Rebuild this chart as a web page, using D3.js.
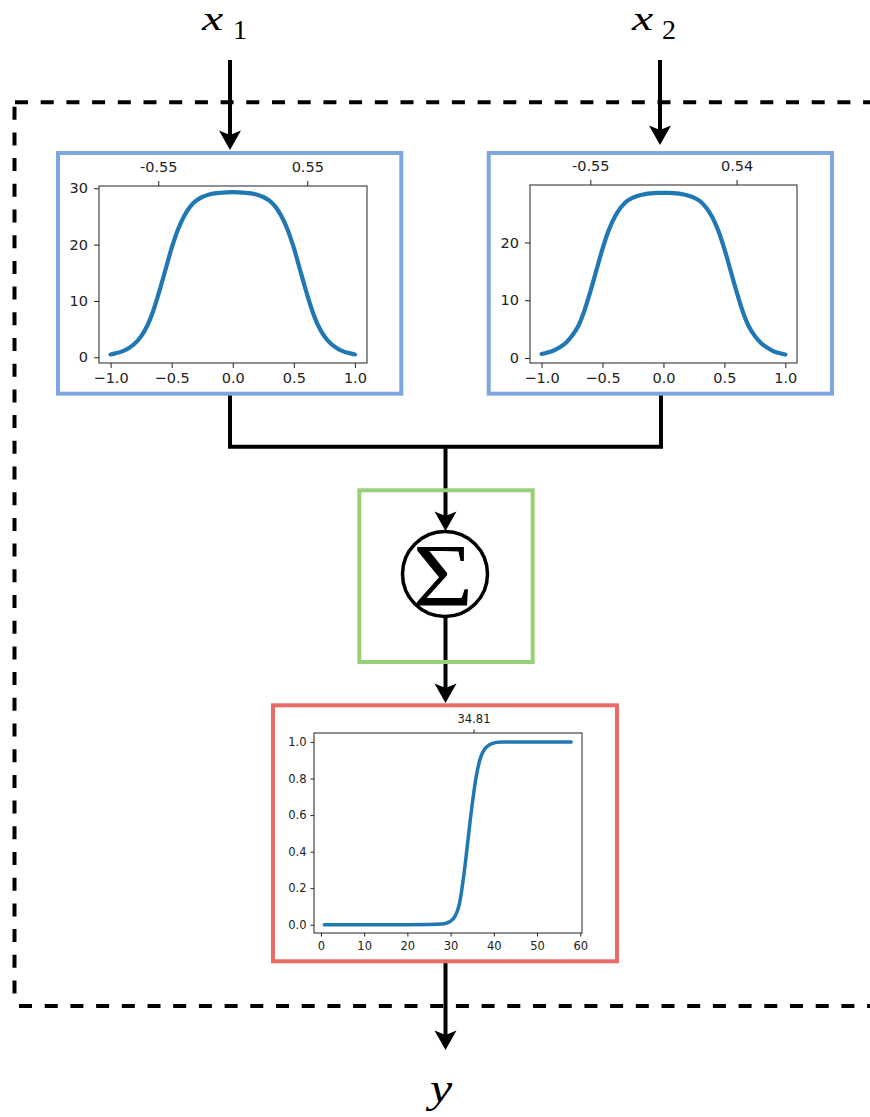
<!DOCTYPE html>
<html>
<head>
<meta charset="utf-8">
<script src="https://cdn.jsdelivr.net/npm/d3@7"></script>
<style>
  body { margin: 0; background: #fff; }
  .tick text { font-family: 'DejaVu Sans', sans-serif; fill: #222; }
</style>
</head>
<body>
<svg id="fig" width="870" height="1117"></svg>
<script>
// curve samples
var bumpX = [-1.0, -0.95, -0.9, -0.85, -0.8, -0.75, -0.7, -0.65, -0.6, -0.55, -0.5,
             -0.45, -0.4, -0.35, -0.3, -0.25, -0.2, -0.15, -0.1, -0.05, 0.0,
             0.05, 0.1, 0.15, 0.2, 0.25, 0.3, 0.35, 0.4, 0.45, 0.5,
             0.55, 0.6, 0.65, 0.7, 0.75, 0.8, 0.85, 0.9, 0.95, 1.0];
var bump1 = [0.5, 0.75, 1.1, 1.65, 2.5, 3.75, 5.6, 8.3, 11.8, 15.6, 19.4,
             22.6, 25.0, 26.7, 27.8, 28.45, 28.85, 29.08, 29.2, 29.27, 29.3,
             29.27, 29.2, 29.08, 28.85, 28.45, 27.8, 26.7, 25.0, 22.6, 19.4,
             15.6, 11.8, 8.3, 5.6, 3.75, 2.5, 1.65, 1.1, 0.75, 0.5];
var bump2 = [0.7, 0.95, 1.3, 1.85, 2.65, 3.85, 5.5, 8.1, 11.5, 15.2, 18.9,
             22.05, 24.4, 26.05, 27.15, 27.75, 28.15, 28.38, 28.5, 28.57, 28.6,
             28.57, 28.5, 28.38, 28.15, 27.75, 27.15, 26.05, 24.4, 22.05, 18.9,
             15.2, 11.5, 8.1, 5.5, 3.8, 2.6, 1.8, 1.2, 0.85, 0.6];

var sigX = [0.8, 5, 10, 15, 20, 25, 28, 29, 30, 31, 32, 33, 34, 35, 36, 37, 38,
            39, 40, 41, 42, 45, 50, 55, 57.9];
var sigY = [0, 0, 0, 0, 0, 0.001, 0.004, 0.009, 0.02, 0.045, 0.11, 0.26, 0.46,
            0.66, 0.82, 0.92, 0.965, 0.985, 0.994, 0.998, 1, 1, 1, 1, 1];

// ticks
var bumpXTicks = [-1.0, -0.5, 0.0, 0.5, 1.0];
var bump1YTicks = [0, 10, 20, 30];
var bump2YTicks = [0, 10, 20];
var top1Pos = [-0.61, 0.61], top1Lab = ['-0.55', '0.55'];
var top2Pos = [-0.60, 0.60], top2Lab = ['-0.55', '0.54'];
var sigXTicks = [0, 10, 20, 30, 40, 50, 60];
var sigYTicks = [0.0, 0.2, 0.4, 0.6, 0.8, 1.0];
var sigTopPos = [35.3], sigTopLab = ['34.81'];

var svg = d3.select('#fig');
svg.append('rect').attr('width', 870).attr('height', 1117).attr('fill', '#fff');

function plot(o) {
  var g = svg.append('g').attr('transform', `translate(${o.left}, ${o.top})`);
  var x = d3.scaleLinear().domain(o.xDomain).range([0, o.w]),
      y = d3.scaleLinear().domain(o.yDomain).range([o.h, 0]);

  var line = d3.line()
    .x(d => x(d[0]))
    .y(d => y(d[1]))
    .curve(o.curve);

  g.append('path')
    .datum(d3.zip(o.xs, o.ys))
    .attr('fill', 'none')
    .attr('stroke', '#1f77b4')
    .attr('stroke-width', o.lw)
    .attr('stroke-linejoin', 'round')
    .attr('stroke-linecap', 'round')
    .attr('d', line);

  var ax = [
    g.append('g').attr('transform', `translate(0, ${o.h})`)
      .call(d3.axisBottom(x).tickValues(o.xTicks).tickFormat(d3.format(o.xFmt))
        .tickSize(o.tick).tickPadding(o.padB)),
    g.append('g')
      .call(d3.axisLeft(y).tickValues(o.yTicks).tickFormat(d3.format(o.yFmt))
        .tickSize(o.tick).tickPadding(o.padL)),
    g.append('g')
      .call(d3.axisTop(x).tickValues(o.topPos).tickFormat((d, i) => o.topLab[i])
        .tickSize(o.tick).tickPadding(o.padT))
  ];
  ax.forEach(a => {
    a.select('.domain').remove();
    a.selectAll('.tick line').attr('stroke', '#222').attr('stroke-width', 1);
    a.selectAll('text').style('font-size', o.fs + 'px');
  });

  g.append('rect')
    .attr('width', o.w).attr('height', o.h)
    .attr('fill', 'none').attr('stroke', '#222').attr('stroke-width', 1);
}

function box(x, y, w, h, c) {
  svg.append('rect')
    .attr('x', x).attr('y', y).attr('width', w).attr('height', h)
    .attr('fill', 'none').attr('stroke', c).attr('stroke-width', 4);
}

function arrow(x, y1, y2) {
  var len = 19.5, hw = 11, notch = 4.5;
  svg.append('line')
    .attr('x1', x).attr('x2', x).attr('y1', y1).attr('y2', y2 - len + notch)
    .attr('stroke', '#000').attr('stroke-width', 4);
  svg.append('path')
    .attr('d', `M${x},${y2} L${x - hw},${y2 - len} L${x},${y2 - len + notch} L${x + hw},${y2 - len} Z`)
    .attr('fill', '#000');
}

// dashed outer frame
var dash = '13 12.7';
svg.append('line').attr('x1', 15).attr('x2', 880).attr('y1', 102.3).attr('y2', 102.3)
  .attr('stroke', '#000').attr('stroke-width', 4).attr('stroke-dasharray', dash);
svg.append('line').attr('x1', 14.5).attr('x2', 14.5).attr('y1', 102).attr('y2', 1006)
  .attr('stroke', '#000').attr('stroke-width', 4).attr('stroke-dasharray', dash)
  .attr('stroke-dashoffset', 21);
svg.append('line').attr('x1', 15).attr('x2', 880).attr('y1', 1006).attr('y2', 1006)
  .attr('stroke', '#000').attr('stroke-width', 4).attr('stroke-dasharray', dash)
  .attr('stroke-dashoffset', 21.7);

// connectors
svg.append('path')
  .attr('d', 'M230,395 V446.7 H661 V395')
  .attr('fill', 'none').attr('stroke', '#000').attr('stroke-width', 4)
  .attr('stroke-linejoin', 'miter');
arrow(230, 60, 150);
arrow(660, 60, 145);
arrow(445.5, 446.7, 531);
arrow(445.5, 617, 703);
arrow(445.5, 963, 1050);

// boxes
box(58, 153, 343.3, 240.7, '#7ea6e0');
box(488.7, 153, 343.3, 240.7, '#7ea6e0');
box(359.3, 490.3, 173.4, 171.7, '#97d077');
box(273, 705.3, 344, 256, '#ea6b66');

// summation node
svg.append('circle').attr('cx', 445).attr('cy', 574).attr('r', 42.5)
  .attr('fill', '#fff').attr('stroke', '#000').attr('stroke-width', 3.5);
svg.append('text').attr('transform', 'translate(443, 605) scale(1.18, 1)')
  .attr('text-anchor', 'middle')
  .style('font-family', "'Liberation Serif', serif").style('font-size', '88px')
  .text('Σ');

// inputs / output labels (math italic, widened a little)
function mathLabel(x, y, v, subX, sub) {
  svg.append('text').attr('transform', `translate(${x}, ${y}) scale(1.45, 1)`)
    .style('font-family', "'Liberation Serif', serif")
    .style('font-style', 'italic').style('font-size', '33px').text(v);
  svg.append('text').attr('x', subX).attr('y', y + 8.5)
    .style('font-family', "'Liberation Serif', serif")
    .style('font-size', '28px').text(sub);
}
mathLabel(202, 30, 'x', 233, '1');
mathLabel(632, 30, 'x', 662, '2');
svg.append('text').attr('transform', 'translate(430, 1102) scale(1.25, 1)')
  .style('font-family', "'Liberation Serif', serif")
  .style('font-style', 'italic').style('font-size', '40px').text('y');

// the three small plots
plot({left: 99, top: 186, w: 268, h: 177, xs: bumpX, ys: bump1,
      xDomain: [-1.095, 1.099], yDomain: [-1.01, 30.4], curve: d3.curveCatmullRom,
      xTicks: bumpXTicks, yTicks: bump1YTicks, xFmt: '.1f', yFmt: 'd',
      topPos: top1Pos, topLab: top1Lab,
      fs: 14.5, tick: 5, padB: 5, padL: 6, padT: 9, lw: 4.2});
plot({left: 530, top: 185, w: 267, h: 178, xs: bumpX, ys: bump2,
      xDomain: [-1.095, 1.096], yDomain: [-0.87, 29.95], curve: d3.curveCatmullRom,
      xTicks: bumpXTicks, yTicks: bump2YTicks, xFmt: '.1f', yFmt: 'd',
      topPos: top2Pos, topLab: top2Lab,
      fs: 14.5, tick: 5, padB: 5, padL: 6, padT: 9, lw: 4.2});
plot({left: 314, top: 733, w: 268, h: 200, xs: sigX, ys: sigY,
      xDomain: [-1.6, 60.4], yDomain: [-0.045, 1.049], curve: d3.curveMonotoneX,
      xTicks: sigXTicks, yTicks: sigYTicks, xFmt: 'd', yFmt: '.1f',
      topPos: sigTopPos, topLab: sigTopLab,
      fs: 11.5, tick: 3.5, padB: 5, padL: 4, padT: 7, lw: 3.5});
</script>
</body>
</html>
